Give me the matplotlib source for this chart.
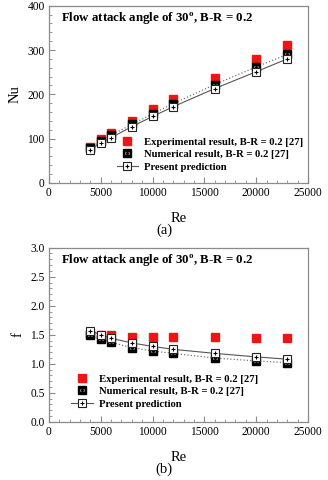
import numpy as np
import matplotlib
matplotlib.use('Agg')
from matplotlib import pyplot as plt
from matplotlib.ticker import MultipleLocator
from matplotlib.legend_handler import HandlerTuple

plt.rcParams['font.family'] = ['Liberation Serif', 'DejaVu Serif']
plt.rcParams['mathtext.fontset'] = 'custom'
plt.rcParams['mathtext.rm'] = 'Liberation Serif'
plt.rcParams['mathtext.bf'] = 'Liberation Serif:bold'

# data
re = [4000, 5000, 6000, 8000, 10000, 12000, 16000, 20000, 23000]
nu_exp = [82, 98, 112, 140, 166, 190, 236, 280, 311]
nu_num = [78, 94, 108, 132, 156, 179, 222, 262, 290]
nu_pre = [75, 90, 102, 127, 150, 172, 213, 251, 280]

f_exp = [1.52, 1.50, 1.49, 1.47, 1.47, 1.47, 1.46, 1.45, 1.45]
f_num = [1.49, 1.43, 1.37, 1.28, 1.22, 1.18, 1.10, 1.05, 1.02]
f_pre = [1.57, 1.50, 1.44, 1.36, 1.30, 1.25, 1.18, 1.12, 1.08]

title = 'Flow attack angle of 30$^{\\mathbf{o}}$, B-R = 0.2'
lab_exp = 'Experimental result, B-R = 0.2 [27]'
lab_num = 'Numerical result, B-R = 0.2 [27]'
lab_pre = 'Present prediction'

red = '#f01414'
spine = '#8a8a8a'

fig = plt.figure(figsize=(3.28, 4.8), dpi=100)
ax1 = fig.add_axes([0.149, 0.619, 0.790, 0.369])
ax2 = fig.add_axes([0.149, 0.121, 0.790, 0.363])


def draw(ax, y_exp, y_num, y_pre, ylim, major, minor, ylabel, leg_anchor):
    e, = ax.plot(re, y_exp, 's', color=red, ms=5.8, mec=red, ls='none', zorder=2)
    ax.plot(re, y_num, ':', color='#777777', lw=0.9, zorder=3)
    n1, = ax.plot(re, y_num, 's', color='black', ms=5.2, mfc='black', mec='black', ls='none', zorder=4)
    n2, = ax.plot(re, y_num, '_', color='white', ms=3.5, mew=1.8, ls='none', zorder=5)
    n3, = ax.plot(re, y_num, '.', color='black', ms=2.5, ls='none', zorder=6)
    p1, = ax.plot(re, y_pre, '-s', color='#555555', lw=0.8, ms=6, mfc='white', mec='#222222', mew=0.8, zorder=7)
    p2, = ax.plot(re, y_pre, '+', color='black', ms=3.5, mew=0.8, ls='none', zorder=8)
    ax.set_xlim(0, 25000)
    ax.set_ylim(*ylim)
    ax.xaxis.set_major_locator(MultipleLocator(5000))
    ax.xaxis.set_minor_locator(MultipleLocator(1000))
    ax.yaxis.set_major_locator(MultipleLocator(major))
    ax.yaxis.set_minor_locator(MultipleLocator(minor))
    ax.tick_params(which='both', direction='in', top=False, right=False,
                   labelsize=8.3, color=spine, pad=3)
    ax.tick_params(which='major', length=4)
    ax.tick_params(which='minor', length=2)
    for s in ax.spines.values():
        s.set_color(spine)
        s.set_linewidth(0.9)
    ax.set_xlabel('Re', fontsize=10.5, labelpad=9)
    ax.set_ylabel(ylabel, fontsize=10.5, labelpad=4)
    ax.text(0.045, 0.925, title, transform=ax.transAxes, fontsize=9.3,
            fontweight='bold', va='center')
    ax.legend([e, (n1, n2, n3), (p1, p2)], [lab_exp, lab_num, lab_pre],
              handler_map={tuple: HandlerTuple(ndivide=1)},
              loc='lower left', bbox_to_anchor=leg_anchor, frameon=False,
              prop={'weight': 'bold', 'size': 7.7}, handlelength=2.0,
              handletextpad=0.6, labelspacing=0.28, borderaxespad=0)


draw(ax1, nu_exp, nu_num, nu_pre, (0, 400), 100, 20, 'Nu', (0.245, 0.04))
draw(ax2, f_exp, f_num, f_pre, (0, 3.0), 0.5, 0.1, 'f', (0.07, 0.052))

fig.text(0.5, 0.52, '(a)', ha='center', va='center', fontsize=10.5)
fig.text(0.5, 0.023, '(b)', ha='center', va='center', fontsize=10.5)

fig.savefig('out.png', dpi=100)
